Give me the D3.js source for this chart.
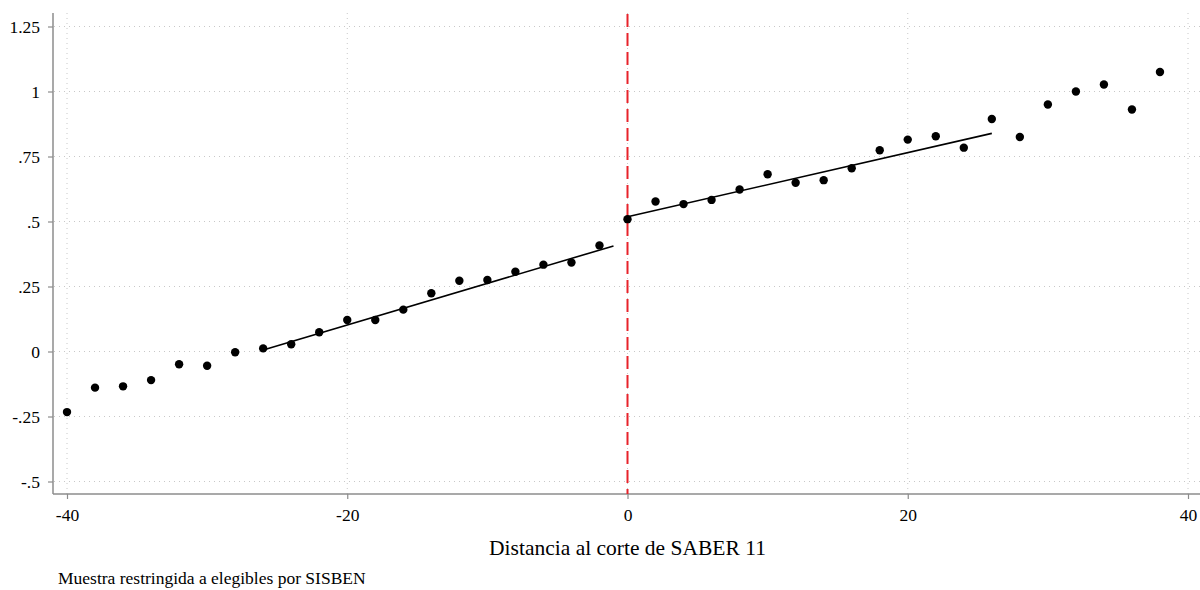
<!DOCTYPE html>
<html>
<head>
<meta charset="utf-8">
<script src="https://cdn.jsdelivr.net/npm/d3@7"></script>
<style>
  body { margin: 0; background: #fff; }
  svg { display: block; font-family: "Liberation Serif", "Times New Roman", serif; }
  svg text { font-family: "Liberation Serif", "Times New Roman", serif; }
</style>
</head>
<body>
<svg></svg>
<script>
// distance to the cutoff (bins) and mean outcome per bin
let distance = [-40, -38, -36, -34, -32, -30, -28, -26, -24, -22, -20, -18, -16, -14, -12, -10, -8, -6, -4, -2,
                0, 2, 4, 6, 8, 10, 12, 14, 16, 18, 20, 22, 24, 26, 28, 30, 32, 34, 36, 38];
let outcome = [-0.233, -0.139, -0.134, -0.110, -0.049, -0.055, -0.003, 0.012, 0.028, 0.074,
               0.121, 0.121, 0.161, 0.224, 0.272, 0.275, 0.307, 0.334, 0.342, 0.408,
               0.509, 0.577, 0.567, 0.583, 0.623, 0.682, 0.649, 0.659, 0.705, 0.774,
               0.815, 0.828, 0.784, 0.894, 0.825, 0.950, 1.000, 1.027, 0.931, 1.075];

// linear fits each side of the cutoff (endpoints)
let fitLeftX = [-26, -1];
let fitLeftY = [0.006, 0.406];
let fitRightX = [0, 26];
let fitRightY = [0.518, 0.839];

let xTicks = [-40, -20, 0, 20, 40];
let xTickLabels = ["-40", "-20", "0", "20", "40"];
let yTicks = [-0.5, -0.25, 0, 0.25, 0.5, 0.75, 1, 1.25];
let yTickLabels = ["-.5", "-.25", "0", ".25", ".5", ".75", "1", "1.25"];

let width = 1200;
let height = 590;
let plotLeft = 53, plotRight = 1200, plotTop = 13, plotBottom = 494;

let svg = d3.select("svg").attr("width", width).attr("height", height);

let xScale = d3.scaleLinear().domain([-40, 40]).range([67, 1188]);
let yScale = d3.scaleLinear().domain([-0.5, 1.25]).range([481.5, 26.5]);

// grid
let grid = svg.append("g");
grid.selectAll("line.h")
  .data(yTicks)
  .enter()
  .append("line")
  .attr("class", "h")
  .attr("x1", plotLeft + 1)
  .attr("x2", plotRight)
  .attr("y1", (d) => yScale(d))
  .attr("y2", (d) => yScale(d))
  .attr("stroke", "#c8c8c8")
  .attr("stroke-width", 1)
  .attr("stroke-dasharray", "1,4");
grid.selectAll("line.v")
  .data(xTicks)
  .enter()
  .append("line")
  .attr("class", "v")
  .attr("x1", (d) => xScale(d))
  .attr("x2", (d) => xScale(d))
  .attr("y1", plotTop)
  .attr("y2", plotBottom)
  .attr("stroke", "#c8c8c8")
  .attr("stroke-width", 1)
  .attr("stroke-dasharray", "1,4");

// axes
let xAxis = d3.axisBottom(xScale).tickValues(xTicks).tickSize(5).tickPadding(10)
  .tickFormat((d, i) => xTickLabels[i]);
let gx = svg.append("g").attr("transform", "translate(0," + plotBottom + ")").call(xAxis);
gx.select(".domain").remove();
gx.append("line").attr("x1", plotLeft).attr("x2", plotRight).attr("stroke", "#8c8c8c").attr("stroke-width", 1.5);

let yAxis = d3.axisLeft(yScale).tickValues(yTicks).tickSize(5).tickPadding(8)
  .tickFormat((d, i) => yTickLabels[i]);
let gy = svg.append("g").attr("transform", "translate(" + plotLeft + ",0)").call(yAxis);
gy.select(".domain").remove();
gy.append("line").attr("y1", plotTop).attr("y2", plotBottom).attr("stroke", "#8c8c8c").attr("stroke-width", 1.5);

[gx, gy].forEach((g) => {
  g.attr("font-family", null).attr("font-size", null);
  g.selectAll(".tick line").attr("stroke", "#8c8c8c").attr("stroke-width", 1.2);
  g.selectAll(".tick text")
    .attr("fill", "#000")
    .style("font-size", "17.5px");
});

// cutoff line
svg.append("line")
  .attr("x1", xScale(0))
  .attr("x2", xScale(0))
  .attr("y1", plotTop + 1)
  .attr("y2", plotBottom)
  .attr("stroke", "#e8222a")
  .attr("stroke-width", 2)
  .attr("stroke-dasharray", "13,6");

// fitted lines
let line = d3.line().x((d) => xScale(d[0])).y((d) => yScale(d[1]));
svg.append("path")
  .attr("d", line(d3.zip(fitLeftX, fitLeftY)))
  .attr("fill", "none")
  .attr("stroke", "#000")
  .attr("stroke-width", 1.6);
svg.append("path")
  .attr("d", line(d3.zip(fitRightX, fitRightY)))
  .attr("fill", "none")
  .attr("stroke", "#000")
  .attr("stroke-width", 1.6);

// points
svg.selectAll("circle")
  .data(d3.zip(distance, outcome))
  .enter()
  .append("circle")
  .attr("cx", (d) => xScale(d[0]))
  .attr("cy", (d) => yScale(d[1]))
  .attr("r", 4.2)
  .attr("fill", "#000");

// labels
svg.append("text")
  .attr("x", xScale(0))
  .attr("y", 555)
  .attr("text-anchor", "middle")
  .style("font-size", "21.5px")
  .text("Distancia al corte de SABER 11");

svg.append("text")
  .attr("x", 58)
  .attr("y", 584)
  .style("font-size", "17.5px")
  .text("Muestra restringida a elegibles por SISBEN");
</script>
</body>
</html>
